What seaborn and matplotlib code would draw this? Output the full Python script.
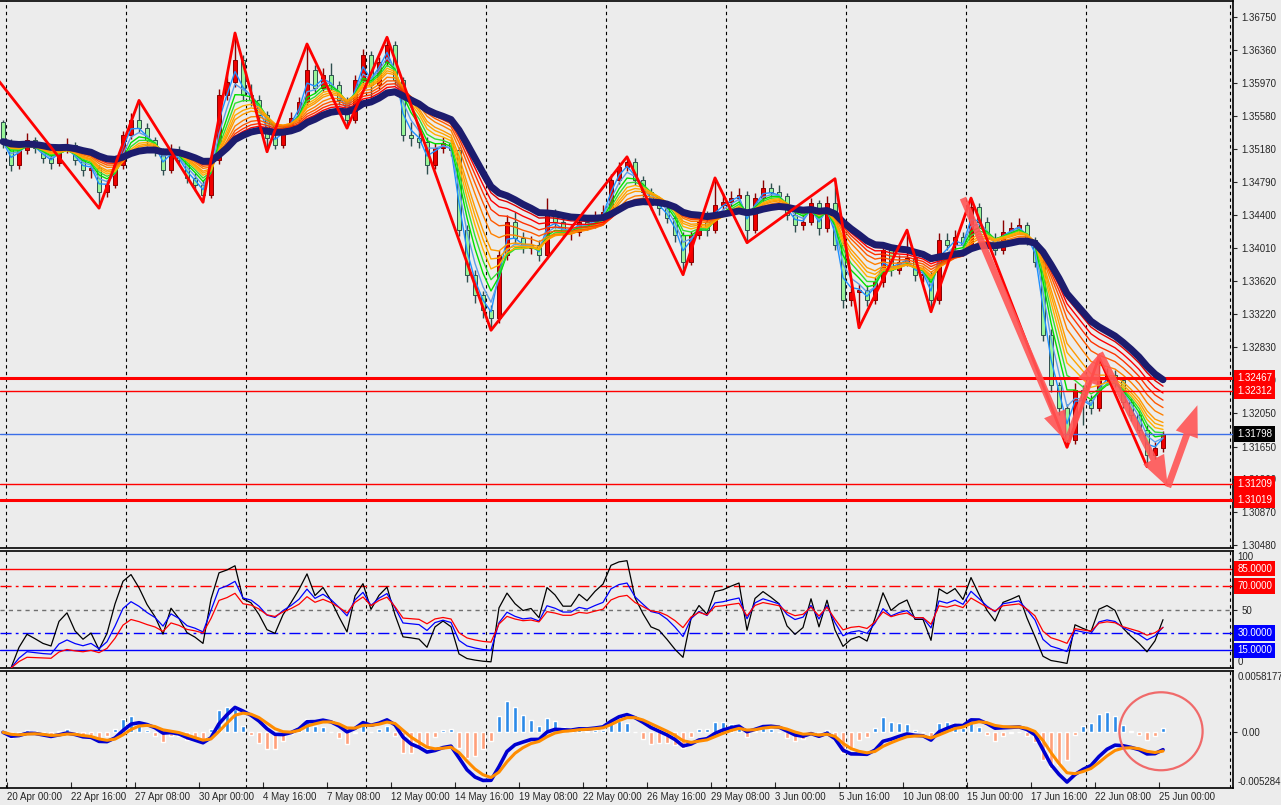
import numpy as np
import pandas as pd
import seaborn as sns
import matplotlib.pyplot as plt
from matplotlib.patches import Ellipse
from matplotlib.transforms import blended_transform_factory

sns.set_style('ticks', {'axes.facecolor': '#ececec', 'figure.facecolor': '#ececec',
                        'axes.edgecolor': 'black'})
plt.rcParams['font.family'] = ['Liberation Sans', 'DejaVu Sans']
plt.rcParams['font.size'] = 7

# GBP/USD style candles (one candle = 8h)
open0 = 1.3550
close = [1.3527, 1.3499, 1.3517, 1.3529, 1.3519, 1.3508, 1.3502, 1.3517, 1.3523, 1.3505,
         1.3493, 1.3496, 1.3467, 1.3476, 1.3499, 1.3535, 1.3553, 1.3543, 1.3529, 1.3517,
         1.3493, 1.3517, 1.3505, 1.3484, 1.3476, 1.3464, 1.3505, 1.3582, 1.3598, 1.3624,
         1.3582, 1.3576, 1.3559, 1.3531, 1.3523, 1.3541, 1.3555, 1.3574, 1.3612, 1.3591,
         1.3606, 1.3594, 1.3576, 1.3553, 1.3600, 1.3630, 1.3594, 1.3622, 1.3642, 1.3600,
         1.3535, 1.3531, 1.3527, 1.3499, 1.3519, 1.3525, 1.3517, 1.3422, 1.3369, 1.3345,
         1.3327, 1.3318, 1.3392, 1.3432, 1.3413, 1.3401, 1.3404, 1.3392, 1.3440, 1.3432,
         1.3420, 1.3420, 1.3432, 1.3428, 1.3436, 1.3443, 1.3481, 1.3497, 1.3503, 1.3481,
         1.3467, 1.3452, 1.3448, 1.3436, 1.3416, 1.3384, 1.3416, 1.3432, 1.3422, 1.3452,
         1.3455, 1.3460, 1.3464, 1.3422, 1.3460, 1.3472, 1.3467, 1.3462, 1.3440, 1.3428,
         1.3432, 1.3454, 1.3424, 1.3454, 1.3404, 1.3339, 1.3348, 1.3351, 1.3339, 1.3360,
         1.3398, 1.3375, 1.3384, 1.3389, 1.3369, 1.3369, 1.3339, 1.3410, 1.3404, 1.3414,
         1.3404, 1.3449, 1.3432, 1.3413, 1.3398, 1.3420, 1.3424, 1.3428, 1.3410, 1.3384,
         1.3297, 1.3238, 1.3211, 1.3173, 1.3232, 1.3220, 1.3211, 1.3244, 1.3250, 1.3244,
         1.3218, 1.3202, 1.3185, 1.3155, 1.3163, 1.3180]
high = [1.3553, 1.3530, 1.3523, 1.3537, 1.3533, 1.3524, 1.3513, 1.3521, 1.3531, 1.3527,
        1.3509, 1.3503, 1.3499, 1.3482, 1.3504, 1.3540, 1.3561, 1.3576, 1.3549, 1.3533,
        1.3520, 1.3524, 1.3522, 1.3509, 1.3490, 1.3481, 1.3511, 1.3590, 1.3610, 1.3656,
        1.3630, 1.3595, 1.3582, 1.3563, 1.3540, 1.3546, 1.3562, 1.3580, 1.3643, 1.3618,
        1.3614, 1.3620, 1.3599, 1.3580, 1.3606, 1.3637, 1.3635, 1.3628, 1.3651, 1.3646,
        1.3604, 1.3550, 1.3540, 1.3532, 1.3525, 1.3532, 1.3530, 1.3521, 1.3428, 1.3374,
        1.3350, 1.3333, 1.3398, 1.3440, 1.3444, 1.3420, 1.3415, 1.3410, 1.3460, 1.3447,
        1.3438, 1.3428, 1.3440, 1.3438, 1.3445, 1.3452, 1.3488, 1.3503, 1.3509, 1.3507,
        1.3486, 1.3472, 1.3460, 1.3453, 1.3440, 1.3420, 1.3421, 1.3440, 1.3445, 1.3484,
        1.3466, 1.3468, 1.3472, 1.3468, 1.3466, 1.3481, 1.3478, 1.3476, 1.3466, 1.3444,
        1.3440, 1.3460, 1.3458, 1.3462, 1.3483, 1.3408, 1.3356, 1.3358, 1.3357, 1.3366,
        1.3406, 1.3403, 1.3392, 1.3422, 1.3394, 1.3378, 1.3373, 1.3418, 1.3418, 1.3422,
        1.3420, 1.3460, 1.3454, 1.3437, 1.3418, 1.3434, 1.3432, 1.3436, 1.3432, 1.3414,
        1.3388, 1.3304, 1.3242, 1.3215, 1.3240, 1.3238, 1.3226, 1.3271, 1.3258, 1.3256,
        1.3248, 1.3223, 1.3207, 1.3190, 1.3170, 1.3184]
low = [1.3520, 1.3492, 1.3495, 1.3512, 1.3514, 1.3502, 1.3494, 1.3498, 1.3513, 1.3499,
       1.3486, 1.3484, 1.3448, 1.3461, 1.3472, 1.3495, 1.3530, 1.3538, 1.3522, 1.3510,
       1.3487, 1.3490, 1.3500, 1.3478, 1.3468, 1.3455, 1.3460, 1.3500, 1.3576, 1.3592,
       1.3575, 1.3569, 1.3552, 1.3515, 1.3518, 1.3519, 1.3537, 1.3550, 1.3570, 1.3585,
       1.3587, 1.3588, 1.3570, 1.3543, 1.3549, 1.3596, 1.3578, 1.3590, 1.3617, 1.3594,
       1.3528, 1.3522, 1.3520, 1.3488, 1.3494, 1.3514, 1.3510, 1.3415, 1.3360, 1.3336,
       1.3318, 1.3303, 1.3312, 1.3386, 1.3405, 1.3395, 1.3394, 1.3385, 1.3388, 1.3425,
       1.3413, 1.3410, 1.3415, 1.3422, 1.3424, 1.3432, 1.3440, 1.3477, 1.3492, 1.3476,
       1.3461, 1.3446, 1.3440, 1.3430, 1.3408, 1.3369, 1.3380, 1.3411, 1.3415, 1.3418,
       1.3446, 1.3450, 1.3455, 1.3407, 1.3418, 1.3455, 1.3461, 1.3456, 1.3434, 1.3420,
       1.3422, 1.3428, 1.3416, 1.3420, 1.3398, 1.3330, 1.3332, 1.3306, 1.3332, 1.3334,
       1.3355, 1.3368, 1.3370, 1.3379, 1.3362, 1.3360, 1.3325, 1.3334, 1.3398, 1.3398,
       1.3398, 1.3400, 1.3426, 1.3407, 1.3392, 1.3394, 1.3416, 1.3419, 1.3404, 1.3378,
       1.3290, 1.3230, 1.3203, 1.3164, 1.3168, 1.3190, 1.3204, 1.3207, 1.3238, 1.3236,
       1.3211, 1.3195, 1.3178, 1.3141, 1.3150, 1.3158]

# zigzag pivots (candle index, price)
zz_bar = [-4, 12, 17, 25, 29, 33, 38, 43, 48, 61, 78, 85, 89, 93, 104, 107, 113, 116, 121, 133, 137, 143]
zz_price = [1.3641, 1.3448, 1.3576, 1.3455, 1.3656, 1.3515, 1.3643, 1.3543, 1.3651, 1.3303, 1.3509,
            1.3369, 1.3484, 1.3407, 1.3483, 1.3306, 1.3422, 1.3325, 1.3460, 1.3164, 1.3271, 1.3141]

# hand drawn arrows (candle index, price)
arrow_bars = [120, 133, 137.1, 145.6, 149.3]
arrow_prices = [1.3460, 1.3170, 1.3276, 1.3117, 1.3214]

level_prices = [1.32467, 1.32312, 1.31798, 1.31209, 1.31019]
price_ticks = [1.36750, 1.36360, 1.35970, 1.35580, 1.35180, 1.34790, 1.34400, 1.34010, 1.33620,
               1.33220, 1.32830, 1.32440, 1.32050, 1.31650, 1.31260, 1.30870, 1.30480]
rsi_levels = [85, 70, 50, 30, 15]
date_labels = ['20 Apr 00:00', '22 Apr 16:00', '27 Apr 08:00', '30 Apr 00:00', '4 May 16:00',
               '7 May 08:00', '12 May 00:00', '14 May 16:00', '19 May 08:00', '22 May 00:00',
               '26 May 16:00', '29 May 08:00', '3 Jun 00:00', '5 Jun 16:00', '10 Jun 08:00',
               '15 Jun 00:00', '17 Jun 16:00', '22 Jun 08:00', '25 Jun 00:00']

n = len(close)
bars = np.arange(n)
c = pd.Series(close)
o = pd.Series([open0] + close[:-1])
h = np.array(high)
l = np.array(low)

W, H = 1281, 805
fig = plt.figure(figsize=(W / 100, H / 100), dpi=100)


def panel(top, bottom):
    a = fig.add_axes([0, 1 - bottom / H, 1233 / W, (bottom - top) / H])
    a.set_xlim(-0.375, 153.75)
    a.spines['left'].set_visible(False)
    for s in ('top', 'right', 'bottom'):
        a.spines[s].set_linewidth(1.2)
    for g in np.arange(0.375, n, 15):
        a.axvline(g, color='black', lw=0.8, ls=(0, (3, 3)), zorder=1)
    a.axvline(153.4, color='black', lw=0.8, ls=(0, (3, 3)), zorder=1)
    a.tick_params(axis='x', bottom=False, labelbottom=False)
    return a


ax = panel(1, 548)
ax2 = panel(551, 668)
ax3 = panel(671, 788)

# --- price panel ---
bull = (c >= o).values
body_lo = np.minimum(o, c).values
body_h = np.maximum((c - o).abs().values, 0.00003)
for mask, fc, ec in [(bull, '#ee0000', '#8b0000'), (~bull, '#98f598', '#2f4f4f')]:
    ax.vlines(bars[mask], l[mask], h[mask], color=ec, lw=1, zorder=2)
    ax.bar(bars[mask], body_h[mask], bottom=body_lo[mask], width=0.62, color=fc,
           edgecolor=ec, lw=0.7, zorder=2.5)

ribbon_spans = [2, 3, 4, 5, 6, 7, 8, 10, 12, 14, 16, 18]
ribbon_colors = ['#1e90ff', '#5f9ee8', '#00e000', '#33dd33', '#ffb000', '#ffa500',
                 '#ff9a00', '#ff8000', '#ff5a00', '#ff3300', '#ff0000', '#e00000']
for span, col in zip(ribbon_spans, ribbon_colors):
    sns.lineplot(x=bars, y=c.ewm(span=span, adjust=False).mean(), ax=ax, color=col,
                 lw=1, zorder=3)
sns.lineplot(x=bars, y=c.ewm(span=20, adjust=False).mean(), ax=ax, color='#1c1c6e',
             lw=5, zorder=4)

ax.plot(zz_bar, zz_price, color='#ff0000', lw=2, zorder=5)

level_styles = [('#ff0000', 2.2), ('#ff0000', 1.0), ('#3a6ee8', 1.0), ('#ff0000', 1.0), ('#ff0000', 2.2)]
box_colors = ['#ff0000', '#ff0000', '#000000', '#ff0000', '#ff0000']
tr = blended_transform_factory(ax.transAxes, ax.transData)
for p, (col, lw), bc in zip(level_prices, level_styles, box_colors):
    ax.axhline(p, color=col, lw=lw, zorder=3.5)
    ax.text(1.0035, p, f'{p:.5f}', transform=tr, ha='left', va='center', color='white',
            fontsize=7, bbox=dict(boxstyle='square,pad=0.3', fc=bc, ec='none'),
            clip_on=False, zorder=10)

for k in range(len(arrow_bars) - 1):
    ax.annotate('', xy=(arrow_bars[k + 1], arrow_prices[k + 1]),
                xytext=(arrow_bars[k], arrow_prices[k]),
                arrowprops=dict(arrowstyle='simple,head_length=1.6,head_width=1.2,tail_width=0.35',
                                mutation_scale=14, fc='#ff5555', ec='none', alpha=0.9,
                                shrinkA=0, shrinkB=0), zorder=6)

ax.set_ylim(1.30445, 1.36940)
ax.yaxis.tick_right()
ax.set_yticks(price_ticks)
ax.set_yticklabels([f'{v:.5f}' for v in price_ticks])
ax.tick_params(axis='y', direction='out', length=3, pad=3, labelsize=7)
ax.set_xlabel('')
ax.set_ylabel('')


# --- RSI panel ---
def rsi(s, p):
    d = s.diff()
    up = d.clip(lower=0).ewm(alpha=1 / p, adjust=False).mean()
    dn = (-d).clip(lower=0).ewm(alpha=1 / p, adjust=False).mean()
    return 100 - 100 / (1 + up / dn)


for p, col in [(4, 'black'), (8, '#0000ff'), (12, '#ff0000')]:
    sns.lineplot(x=bars, y=rsi(c, p), ax=ax2, color=col, lw=0.9, zorder=3)

lvl_style = {85: ('#ff0000', '-'), 70: ('#ff0000', (0, (8, 3, 2, 3))), 50: ('#707070', (0, (3, 3))),
             30: ('#0000ff', (0, (8, 3, 2, 3))), 15: ('#0000ff', '-')}
tr2 = blended_transform_factory(ax2.transAxes, ax2.transData)
for v in rsi_levels:
    col, ls = lvl_style[v]
    ax2.axhline(v, color=col, ls=ls, lw=1, zorder=2)
    if v != 50:
        ax2.text(1.0035, v, f'{v:.4f}', transform=tr2, ha='left', va='center', color='white',
                 fontsize=7, bbox=dict(boxstyle='square,pad=0.3', fc=col, ec='none'),
                 clip_on=False, zorder=10)
ax2.set_ylim(0, 100)
ax2.yaxis.tick_right()
ax2.set_yticks([50])
ax2.set_yticklabels(['50'])
ax2.tick_params(axis='y', direction='out', length=3, pad=3, labelsize=7)
ax2.text(1.0035, 99, '100', transform=tr2, ha='left', va='top', fontsize=7, clip_on=False)
ax2.text(1.0035, 1, '0', transform=tr2, ha='left', va='bottom', fontsize=7, clip_on=False)
ax2.set_xlabel('')
ax2.set_ylabel('')

# --- MACD panel ---
macd = c.ewm(span=5, adjust=False).mean() - c.ewm(span=9, adjust=False).mean()
sig = macd.ewm(span=3, adjust=False).mean()
hist = 3 * (macd - sig)
ax3.bar(bars, hist, width=0.62, color=np.where(hist >= 0, '#2b8ae8', '#ffa07a'), zorder=2)
sns.lineplot(x=bars, y=macd, ax=ax3, color='#0000d0', lw=2.6, zorder=3)
sns.lineplot(x=bars, y=sig, ax=ax3, color='#ff8c00', lw=2.2, zorder=4)
ax3.add_patch(Ellipse((n - 1.25, 0.0001), width=10.4, height=0.0074, fill=False,
                      ec='#f06a6a', lw=1.6, zorder=6))
ax3.set_ylim(-0.005284, 0.0058177)
ax3.yaxis.tick_right()
ax3.set_yticks([0])
ax3.set_yticklabels(['0.00'])
ax3.tick_params(axis='y', direction='out', length=3, pad=3, labelsize=7)
tr3 = blended_transform_factory(ax3.transAxes, ax3.transData)
ax3.text(1.0035, 0.0057, '0.0058177', transform=tr3, ha='left', va='top', fontsize=7, clip_on=False)
ax3.text(1.0035, -0.0052, '-0.005284', transform=tr3, ha='left', va='bottom', fontsize=7, clip_on=False)
ax3.set_xticks(np.arange(0.45, n, 8))
ax3.set_xticklabels(date_labels, ha='left')
ax3.tick_params(axis='x', bottom=True, labelbottom=True, direction='in', length=4, pad=3, labelsize=7)
ax3.set_xlabel('')
ax3.set_ylabel('')

fig.savefig('out.png', dpi=100, facecolor=fig.get_facecolor())
